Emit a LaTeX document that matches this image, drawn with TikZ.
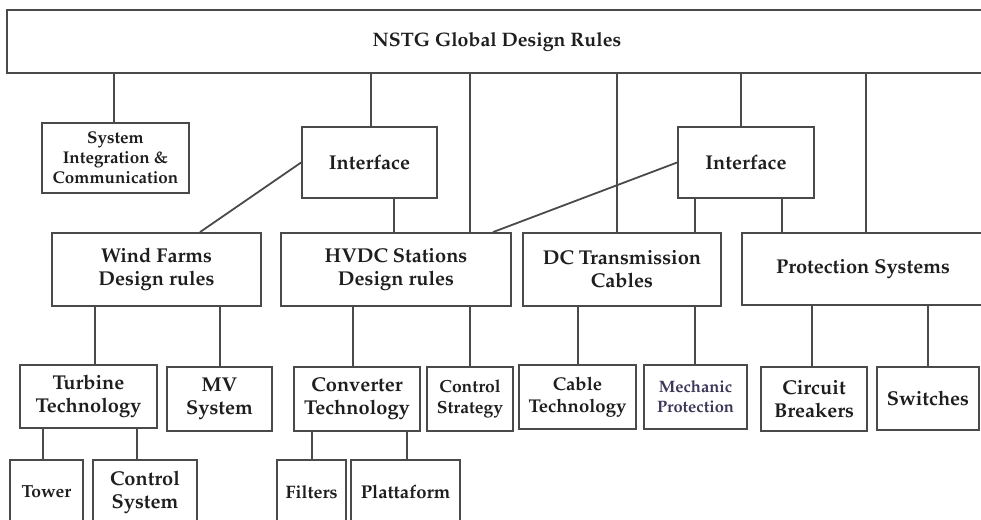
\documentclass[tikz,border=0pt]{standalone}
\usepackage[T1]{fontenc}
\renewcommand{\rmdefault}{ppl}
\usetikzlibrary{calc}
\definecolor{edge}{HTML}{4A4A4A}
\definecolor{ink}{HTML}{1E1E1E}
\definecolor{mechink}{HTML}{3C3858}
\tikzset{
  blk/.style={draw=edge, line width=1.8pt, fill=white, align=center,
    inner sep=0pt, text=ink},
  lnk/.style={draw=edge, line width=1.8pt},
  big/.style={font=\bfseries\fontsize{20}{23}\selectfont},
  mid/.style={font=\bfseries\fontsize{18.5}{22}\selectfont},
  small/.style={font=\bfseries\fontsize{16.5}{20}\selectfont},
}
% box given by its corners: name, x1, y1, x2, y2, style, text
\newcommand{\bx}[7]{%
  \node[blk, #6, minimum width={(#4-#2)*1pt}, minimum height={(#5-#3)*1pt}]
    (#1) at ({(#2+#4)/2},{(#3+#5)/2}) {#7};}
% vertical connector from the bottom of one box to the top of another at x
\newcommand{\vlink}[3]{%
  \path (#3,0) coordinate (vl);
  \draw[lnk] (#1.south -| vl) -- (#2.north -| vl);}
\begin{document}
\begin{tikzpicture}[x=1pt, y=-1pt]
\useasboundingbox (0,0) rectangle (981,519);
\clip (0,0) rectangle (981,519);

% level 0
\bx{top}{7}{10}{987}{73}{font=\bfseries\fontsize{19.5}{22}\selectfont}{NSTG Global Design Rules}

% level 1
\bx{sic}{42}{123}{189}{193}{font=\bfseries\fontsize{17}{20}\selectfont}{System\\Integration \&\\Communication}
\bx{ifa}{302}{127}{437}{198}{big}{Interface}
\bx{ifb}{678}{127}{814}{198}{big}{Interface}

% level 2
\bx{wind}{52}{233}{261}{306}{big}{Wind Farms\\Design rules}
\bx{hvdc}{281}{233}{511}{306}{big}{HVDC Stations\\Design rules}
\bx{dc}{523}{233}{721}{306}{big}{DC Transmission\\Cables}
\bx{prot}{742}{233}{984}{305}{big}{Protection Systems}

% level 3
\bx{turb}{20}{365}{157}{428}{big}{Turbine\\Technology}
\bx{mv}{167}{367}{272}{431}{big}{MV\\System}
\bx{conv}{294}{367}{420}{431}{big}{Converter\\Technology}
\bx{cstr}{427}{367}{513}{431}{font=\bfseries\fontsize{17.5}{21}\selectfont}{Control\\Strategy}
\bx{cable}{519}{365}{636}{429}{mid}{Cable\\Technology}
\bx{mech}{644}{365}{747}{429}{font=\bfseries\fontsize{16.5}{20}\selectfont, text=mechink}{Mechanic\\Protection}
\bx{cb}{761}{367}{867}{431}{big}{Circuit\\Breakers}
\bx{sw}{877}{367}{979}{430}{big}{Switches}

% level 4
\bx{tower}{10}{460}{83}{524}{font=\bfseries\fontsize{17.5}{21}\selectfont}{Tower}
\bx{csys}{93}{460}{197}{524}{big}{Control\\System}
\bx{filt}{277}{460}{346}{524}{font=\bfseries\fontsize{18}{21}\selectfont}{Filters}
\bx{platt}{351}{460}{460}{524}{font=\bfseries\fontsize{18.5}{21}\selectfont}{Plattaform}

% connectors from the global rules
\vlink{top}{sic}{114}
\vlink{top}{ifa}{371}
\vlink{top}{hvdc}{470}
\vlink{top}{dc}{617}
\vlink{top}{ifb}{741}
\vlink{top}{prot}{866}

% interfaces
\vlink{ifa}{hvdc}{394}
\vlink{ifb}{dc}{695}
\vlink{ifb}{prot}{782}
\path (200,0) coordinate (wa);
\draw[lnk] (ifa.west) -- (wind.north -| wa);
\path (493,0) coordinate (ha);
\draw[lnk] (ifb.west) -- (hvdc.north -| ha);

% design rule branches
\vlink{wind}{turb}{95}
\vlink{wind}{mv}{220}
\vlink{hvdc}{conv}{353}
\vlink{hvdc}{cstr}{470}
\vlink{dc}{cable}{578}
\vlink{dc}{mech}{695}
\vlink{prot}{cb}{812}
\vlink{prot}{sw}{928}
\vlink{turb}{tower}{43}
\vlink{turb}{csys}{137}
\vlink{conv}{filt}{312}
\vlink{conv}{platt}{407}
\end{tikzpicture}
\end{document}
